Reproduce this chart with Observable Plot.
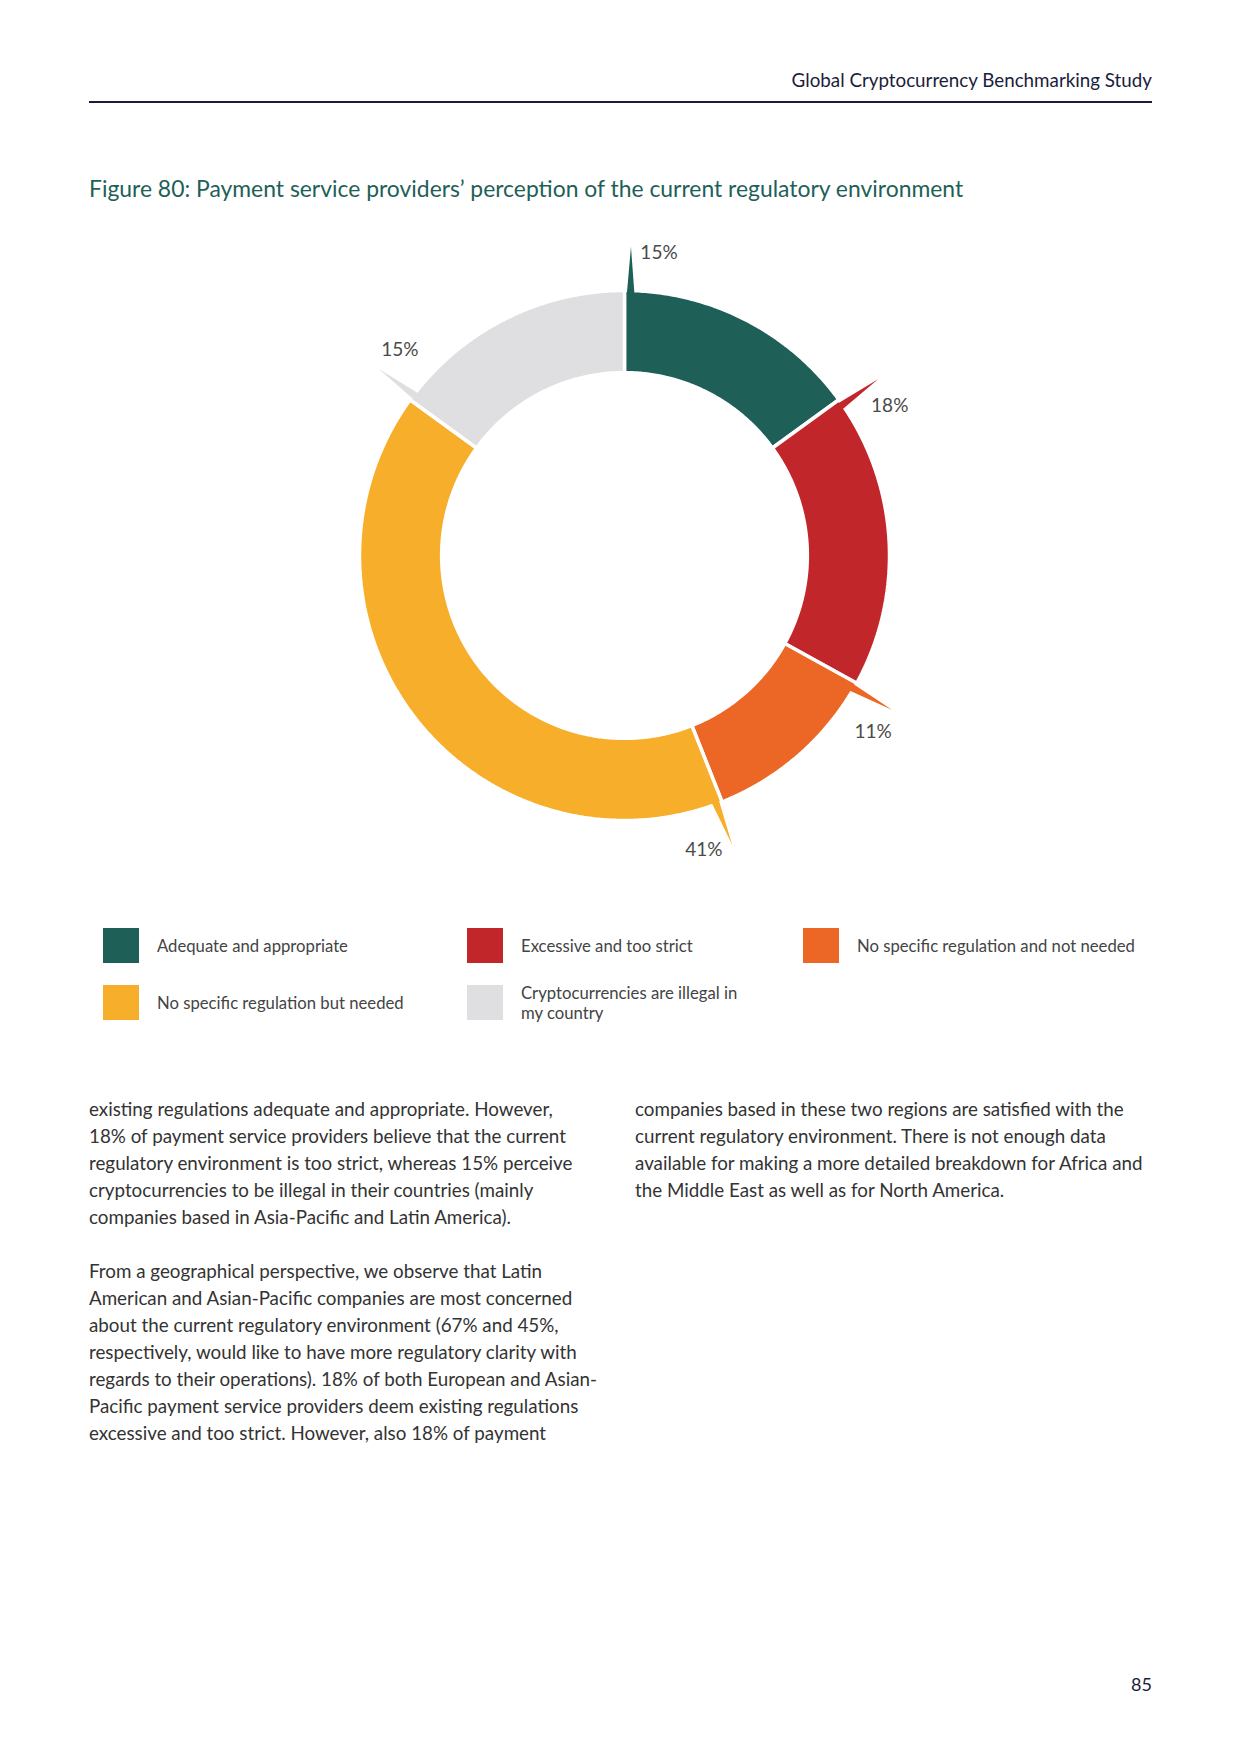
<!DOCTYPE html>
<html>
<head>
<meta charset="utf-8">
<script src="https://cdn.jsdelivr.net/npm/d3@7"></script>
<script src="https://cdn.jsdelivr.net/npm/@observablehq/plot@0.6"></script>
<style>
  html, body { margin:0; padding:0; background:#fff; }
  body { width:1240px; height:1754px; position:relative; font-family: Lato, "Open Sans", sans-serif; }
  .abs { position:absolute; white-space:nowrap; }
  #header { right:88px; top:69px; font-size:18.8px; line-height:22px; color:#1b1d3a; }
  #rule { left:89px; top:101px; width:1063px; height:1.5px; background:#1b1d3a; }
  #title { left:89px; top:174px; font-size:22.9px; line-height:28px; color:#1e6058; }
  #chart { left:274px; top:205px; }
  .sw { position:absolute; width:36px; height:35px; }
  .lt { position:absolute; font-size:16.7px; line-height:20px; color:#444; white-space:nowrap; }
  .body { position:absolute; font-size:18.8px; line-height:27px; color:#333; }
  .body div { white-space:nowrap; }
  #page { right:88px; top:1673px; font-size:18px; line-height:22px; color:#1b1d3a; }
</style>
</head>
<body>
<div id="header" class="abs">Global Cryptocurrency Benchmarking Study</div>
<div id="rule" class="abs"></div>
<div id="title" class="abs">Figure 80: Payment service providers’ perception of the current regulatory environment</div>
<div id="chart" class="abs"></div>
<div id="legend"></div>
<div id="text"></div>
<div id="page" class="abs">85</div>
<script>
// ---- data ----
const categories = [
  "Adequate and appropriate",
  "Excessive and too strict",
  "No specific regulation and not needed",
  "No specific regulation but needed",
  "Cryptocurrencies are illegal in my country"
];
const shares = [15, 18, 11, 41, 15];
const valueLabels = ["15%", "18%", "11%", "41%", "15%"];
const colors = ["#1e6058", "#c1262a", "#ec6726", "#f7ae2a", "#dfdee0"];
const legendLines = [
  ["Adequate and appropriate"],
  ["Excessive and too strict"],
  ["No specific regulation and not needed"],
  ["No specific regulation but needed"],
  ["Cryptocurrencies are illegal in", "my country"]
];

// ---- geometry derived from data ----
const R = 1, r0 = 0.69, D = 350 / 265;
const total = d3.sum(shares);
const deg = Math.PI / 180;
const pt = (rad, a) => ({ x: rad * Math.sin(a), y: rad * Math.cos(a) });
let acc = 0;
const slices = categories.map((c, i) => {
  const a0 = acc / total * 2 * Math.PI;
  acc += shares[i];
  const a1 = acc / total * 2 * Math.PI;
  return { cat: c, a0, a1, label: valueLabels[i] };
});
const polys = [];
for (const s of slices) {
  const n = Math.max(8, Math.ceil((s.a1 - s.a0) / (0.5 * deg)));
  for (let k = 0; k <= n; k++) polys.push({ cat: s.cat, ...pt(R, s.a0 + (s.a1 - s.a0) * k / n) });
  for (let k = n; k >= 0; k--) polys.push({ cat: s.cat, ...pt(r0, s.a0 + (s.a1 - s.a0) * k / n) });
}
const spikes = [];
for (const s of slices) {
  spikes.push({ cat: s.cat, ...pt(0.985, s.a0 + 0.5 * deg) });
  spikes.push({ cat: s.cat, ...pt(1.165, s.a0 + 1.2 * deg) });
  spikes.push({ cat: s.cat, ...pt(0.985, s.a0 + 2.2 * deg) });
}
const labelPts = slices.map(s => ({ text: s.label, ...pt(1.15, s.a0 + 6.5 * deg) }));

const chart = Plot.plot({
  width: 700, height: 700, margin: 0,
  x: { domain: [-D, D], axis: null },
  y: { domain: [-D, D], axis: null },
  color: { domain: categories, range: colors },
  marks: [
    Plot.line(polys, { x: "x", y: "y", z: "cat", fill: "cat", stroke: "white", strokeWidth: 3.5, strokeLinejoin: "miter", curve: "linear-closed" }),
    Plot.line(spikes, { x: "x", y: "y", z: "cat", fill: "cat", stroke: "none", curve: "linear-closed" }),
    Plot.text(labelPts, { x: "x", y: "y", text: "text", fontSize: 19, fill: "#4a4a4a", fontFamily: "Lato" })
  ]
});
document.getElementById("chart").appendChild(chart);

// ---- legend ----
const legend = document.getElementById("legend");
const colX = [103, 467, 803];
const rowY = [928, 985];
categories.forEach((c, i) => {
  const col = i % 3, row = Math.floor(i / 3);
  const sw = document.createElement("div");
  sw.className = "sw";
  sw.style.left = colX[col] + "px";
  sw.style.top = rowY[row] + "px";
  sw.style.background = colors[i];
  legend.appendChild(sw);
  const t = document.createElement("div");
  t.className = "lt";
  t.style.left = (colX[col] + 54) + "px";
  const lines = legendLines[i];
  t.style.top = (rowY[row] + 17.5 - lines.length * 10) + "px";
  t.innerHTML = lines.map(l => "<div>" + l + "</div>").join("");
  legend.appendChild(t);
});

// ---- body text ----
const leftLines = [
  "existing regulations adequate and appropriate. However,",
  "18% of payment service providers believe that the current",
  "regulatory environment is too strict, whereas 15% perceive",
  "cryptocurrencies to be illegal in their countries (mainly",
  "companies based in Asia-Pacific and Latin America).",
  "",
  "From a geographical perspective, we observe that Latin",
  "American and Asian-Pacific companies are most concerned",
  "about the current regulatory environment (67% and 45%,",
  "respectively, would like to have more regulatory clarity with",
  "regards to their operations). 18% of both European and Asian-",
  "Pacific payment service providers deem existing regulations",
  "excessive and too strict. However, also 18% of payment"
];
const rightLines = [
  "companies based in these two regions are satisfied with the",
  "current regulatory environment. There is not enough data",
  "available for making a more detailed breakdown for Africa and",
  "the Middle East as well as for North America."
];
function col(lines, left) {
  const d = document.createElement("div");
  d.className = "body";
  d.style.left = left + "px";
  d.style.top = "1095px";
  d.innerHTML = lines.map(l => "<div>" + (l || "&nbsp;") + "</div>").join("");
  document.getElementById("text").appendChild(d);
}
col(leftLines, 89);
col(rightLines, 635);
</script>
</body>
</html>
